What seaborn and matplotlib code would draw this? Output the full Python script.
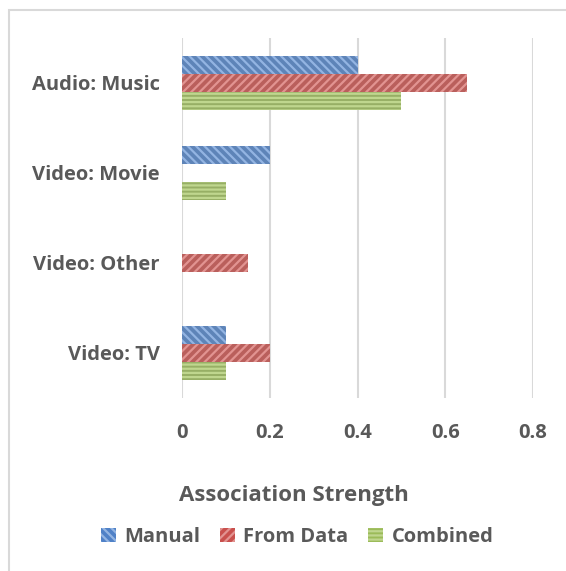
import pandas as pd
import matplotlib
matplotlib.use("Agg")
import matplotlib.pyplot as plt
import seaborn as sns
from matplotlib.patches import Rectangle, Patch

categories = ["Audio: Music", "Video: Movie", "Video: Other", "Video: TV"]
series = ["Manual", "From Data", "Combined"]
manual = [0.4, 0.2, 0.0, 0.1]
from_data = [0.65, 0.0, 0.15, 0.2]
combined = [0.5, 0.1, 0.0, 0.1]
xticks = [0, 0.2, 0.4, 0.6, 0.8]
xticklabels = ["0", "0.2", "0.4", "0.6", "0.8"]

df = pd.DataFrame({
    "Category": categories * 3,
    "Series": [s for s in series for _ in categories],
    "Value": manual + from_data + combined,
})

face = {"Manual": "#4F81C7", "From Data": "#C9504D", "Combined": "#9BBB59"}
stripe = {"Manual": "#93B4E2", "From Data": "#E29391", "Combined": "#BFD68E"}
hatch = {"Manual": "\\\\\\\\", "From Data": "////", "Combined": "----"}
txt = "#595959"

sns.set_theme(style="white")
plt.rcParams["font.family"] = ["Open Sans", "DejaVu Sans"]
plt.rcParams["hatch.linewidth"] = 1.6

fig = plt.figure(figsize=(5.66, 5.71), dpi=100)
ax = fig.add_axes([182 / 566, 1 - 398 / 571, 351 / 566, 360 / 571])

sns.barplot(data=df, x="Value", y="Category", hue="Series", order=categories,
            hue_order=series, orient="h", width=0.6, palette=face,
            legend=False, ax=ax)

for cont, s in zip(ax.containers, series):
    for bar in cont:
        bar.set_hatch(hatch[s])
        bar.set_edgecolor(stripe[s])
        bar.set_linewidth(0)

ax.set_xlim(0, 0.8)
ax.set_ylim(3.5, -0.5)
ax.set_xticks(xticks)
ax.set_xticklabels(xticklabels)
ax.grid(axis="x", color="#D9D9D9", linewidth=1.5)
ax.set_axisbelow(True)
for sp in ax.spines.values():
    sp.set_visible(False)
ax.tick_params(axis="both", length=0, labelsize=14.5, labelcolor=txt)
ax.tick_params(axis="x", pad=18)
ax.tick_params(axis="y", pad=16)
for lab in ax.get_xticklabels() + ax.get_yticklabels():
    lab.set_fontweight("bold")
ax.set_ylabel("")
ax.set_xlabel("")
fig.text(294 / 566, 1 - 495 / 571, "Association Strength", ha="center", va="center",
         fontsize=16, fontweight="bold", color=txt)

handles = [Patch(facecolor=face[s], edgecolor=stripe[s], hatch=hatch[s], linewidth=0) for s in series]
fig.legend(handles, series, loc="center", bbox_to_anchor=(297 / 566, 1 - 537 / 571),
           ncol=3, frameon=False, handlelength=0.75, handleheight=0.75,
           handletextpad=0.4, columnspacing=1.0,
           prop={"size": 14.5, "weight": "bold"}, labelcolor=txt)

fig.patches.append(Rectangle((9 / 566, -0.1), 1.2, 1.1 - 10 / 571, transform=fig.transFigure,
                             fill=False, edgecolor="#D9D9D9", linewidth=1.5))

fig.savefig("out.png", dpi=100)
